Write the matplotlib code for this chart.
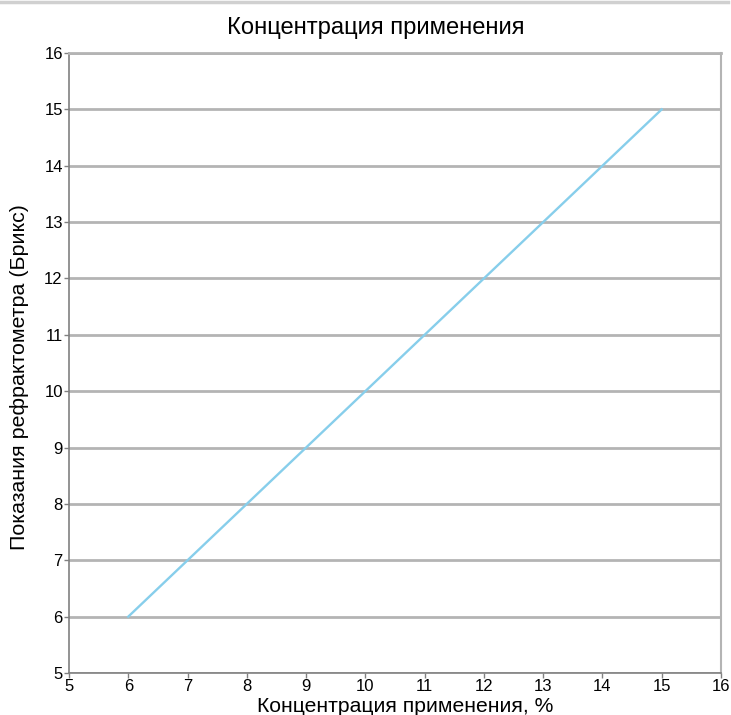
import matplotlib.pyplot as plt
from matplotlib.lines import Line2D

plt.rcParams['font.family'] = ['Liberation Sans', 'DejaVu Sans']

concentration = [6, 7, 8, 9, 10, 11, 12, 13, 14, 15]
brix = [6, 7, 8, 9, 10, 11, 12, 13, 14, 15]
ticks = list(range(5, 17))

fig = plt.figure(figsize=(7.31, 7.15), dpi=100)
ax = fig.add_axes([69 / 731, 1 - 673 / 715, (721 - 69) / 731, (673 - 53) / 715])

ax.plot(concentration, brix, color='#87ceeb', lw=1.7, zorder=3)

ax.set_xlim(5, 16)
ax.set_ylim(5, 16)
ax.set_xticks(ticks)
ax.set_yticks(ticks)
ax.tick_params(labelsize=12, length=3.5, width=1, color='#808080', pad=1)
ax.yaxis.grid(True, color='#b4b4b4', lw=2)
ax.set_axisbelow(True)

for side in ['left', 'bottom']:
    ax.spines[side].set_color('#808080')
    ax.spines[side].set_linewidth(1.2)
ax.spines['top'].set_color('#b4b4b4')
ax.spines['top'].set_linewidth(2)
ax.spines['right'].set_color('#b4b4b4')
ax.spines['right'].set_linewidth(1.5)
ax.spines['bottom'].set_zorder(4)

fig.text(376 / 731, 1 - 34 / 715, 'Концентрация применения', ha='center', va='baseline', fontsize=17.1)
fig.text(405 / 731, 1 - 712 / 715, 'Концентрация применения, %', ha='center', va='baseline', fontsize=15.2)
fig.text(19.5 / 731, 1 - 377 / 715, 'Показания рефрактометра (Брикс)', ha='center', va='center',
         fontsize=15.4, rotation=90)

fig.add_artist(Line2D([0, 728 / 731], [1 - 2 / 715, 1 - 2 / 715], color='#d0d0d0', lw=2.5,
                      transform=fig.transFigure))

fig.savefig('out.png', dpi=100)
